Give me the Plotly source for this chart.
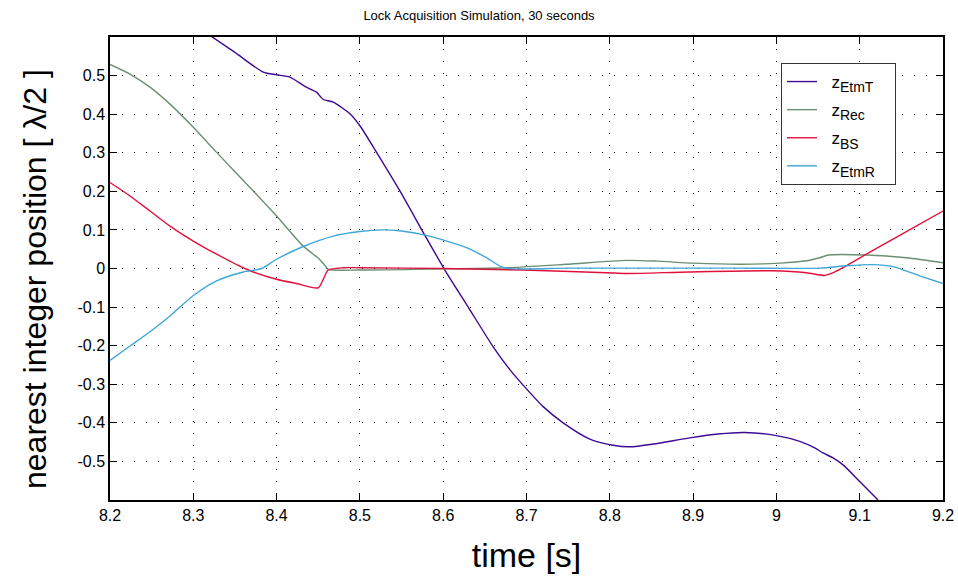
import plotly.graph_objects as go

# EtmT (purple)
t_etmt = [8.32, 8.35, 8.384, 8.40, 8.416, 8.434, 8.448, 8.452, 8.456, 8.468, 8.488, 8.50, 8.52,
          8.548, 8.578, 8.602, 8.630, 8.660, 8.68, 8.70, 8.72, 8.744, 8.776, 8.804, 8.824, 8.852, 8.896,
          8.93, 8.962, 9.0, 9.028, 9.046, 9.056, 9.068, 9.08, 9.1, 9.122]
z_etmt = [0.604, 0.56, 0.509, 0.502, 0.496, 0.472, 0.457, 0.447, 0.438, 0.431, 0.401, 0.370, 0.301,
          0.201, 0.086, -0.004, -0.100, -0.203, -0.262, -0.312, -0.358, -0.400, -0.442, -0.458, -0.462, -0.455, -0.439,
          -0.429, -0.425, -0.433, -0.448, -0.465, -0.478, -0.491, -0.509, -0.552, -0.600]

# Rec (grey-green)
t_rec = [8.2, 8.224, 8.248, 8.272, 8.30, 8.328, 8.372, 8.40, 8.432, 8.45, 8.454, 8.458, 8.462,
         8.50, 8.60, 8.676, 8.748, 8.82, 8.856, 8.9, 8.956, 9.004, 9.036, 9.052, 9.063, 9.108, 9.156, 9.2]
z_rec = [0.529, 0.504, 0.470, 0.426, 0.366, 0.301, 0.201, 0.136, 0.058, 0.027, 0.018, 0.008, -0.002,
         -0.004, -0.001, 0.002, 0.011, 0.021, 0.019, 0.014, 0.011, 0.014, 0.020, 0.028, 0.035, 0.035, 0.028, 0.015]

# BS (red)
t_bs = [8.2, 8.224, 8.248, 8.272, 8.30, 8.328, 8.364, 8.40, 8.424, 8.45, 8.456, 8.462, 8.48,
        8.50, 8.60, 8.696, 8.796, 8.82, 8.896, 8.996, 9.036, 9.058, 9.068, 9.08, 9.108, 9.14, 9.2]
z_bs = [0.223, 0.188, 0.149, 0.110, 0.071, 0.037, -0.002, -0.028, -0.039, -0.050, -0.028, -0.004, 0.002,
        0.002, 0.0, -0.004, -0.011, -0.013, -0.009, -0.006, -0.011, -0.018, -0.011, 0.002, 0.037, 0.076, 0.149]

# EtmR (light blue)
t_etmr = [8.2, 8.224, 8.248, 8.272, 8.30, 8.328, 8.36, 8.382, 8.40, 8.432, 8.468, 8.50, 8.528,
          8.55, 8.58, 8.628, 8.652, 8.673, 8.75, 8.85, 8.95, 9.052, 9.084, 9.116, 9.14, 9.172, 9.2]
z_etmr = [-0.238, -0.201, -0.164, -0.123, -0.070, -0.032, -0.009, 0.0, 0.024, 0.057, 0.084, 0.096, 0.100,
          0.097, 0.086, 0.054, 0.028, 0.002, 0.001, 0.001, 0.001, 0.001, 0.007, 0.010, 0.005, -0.019, -0.039]

x_ticks = [8.2, 8.3, 8.4, 8.5, 8.6, 8.7, 8.8, 8.9, 9.0, 9.1, 9.2]
x_labels = ["8.2", "8.3", "8.4", "8.5", "8.6", "8.7", "8.8", "8.9", "9", "9.1", "9.2"]
y_ticks = [0.5, 0.4, 0.3, 0.2, 0.1, 0.0, -0.1, -0.2, -0.3, -0.4, -0.5]
y_labels = ["0.5", "0.4", "0.3", "0.2", "0.1", "0", "-0.1", "-0.2", "-0.3", "-0.4", "-0.5"]

series_names = ["EtmT", "Rec", "BS", "EtmR"]
series_colors = ["#3d0a94", "#6b8f72", "#e0103c", "#40a6d6"]
series_t = [t_etmt, t_rec, t_bs, t_etmr]
series_z = [z_etmt, z_rec, z_bs, z_etmr]

NB = "\u00a0"
fig = go.Figure()
for i, (name, t, z, c) in enumerate(zip(series_names, series_t, series_z, series_colors)):
    label = f'{NB}{NB}z<span style="font-size:20px"><sub>{name}</sub></span>{NB}{NB}{NB}'
    fig.add_trace(go.Scatter(x=t, y=z, mode="lines", name=label, legendgroup=f"g{i}",
                             line=dict(color=c, width=1.4, shape="spline", smoothing=0.7)))

font = "Liberation Sans, Arial, sans-serif"
fig.update_layout(
    width=958, height=577,
    margin=dict(l=110, r=15, t=37, b=77, autoexpand=False),
    paper_bgcolor="white", plot_bgcolor="white",
    font=dict(family=font, color="black", size=15),
    title=dict(text="Lock Acquisition Simulation, 30 seconds", x=0.5, xanchor="center",
               y=1 - 15 / 577, yanchor="middle", font=dict(size=13)),
    showlegend=True,
    legend=dict(x=(781 - 110) / 833, y=1 - (63 - 37) / 463, xanchor="left", yanchor="top",
                bgcolor="white", bordercolor="#333333", borderwidth=1,
                font=dict(size=17), itemwidth=30, tracegroupgap=3),
    annotations=[dict(text="nearest integer position [ λ/2 ]", textangle=-90,
                      xref="paper", yref="paper", x=(35 - 110) / 833, y=1 - (279 - 37) / 463,
                      xanchor="center", yanchor="middle", showarrow=False,
                      font=dict(size=32))],
)
fig.update_xaxes(range=[8.2, 9.2], tickvals=x_ticks, ticktext=x_labels, automargin=False,
                 showgrid=True, gridcolor="black", gridwidth=1, griddash="1px,11px",
                 ticks="inside", ticklen=7, tickcolor="black", tickwidth=1,
                 showline=True, linecolor="black", linewidth=1.5, mirror="ticks",
                 zeroline=False, tickfont=dict(size=16),
                 title=dict(text="time [s]", font=dict(size=34), standoff=20))
fig.update_yaxes(range=[-0.6, 0.6], tickvals=y_ticks, ticktext=y_labels, automargin=False,
                 showgrid=True, gridcolor="black", gridwidth=1, griddash="1px,11px",
                 ticks="inside", ticklen=7, tickcolor="black", tickwidth=1,
                 showline=True, linecolor="black", linewidth=1.5, mirror="ticks",
                 zeroline=False, tickfont=dict(size=16))

fig.write_html("out.html")
